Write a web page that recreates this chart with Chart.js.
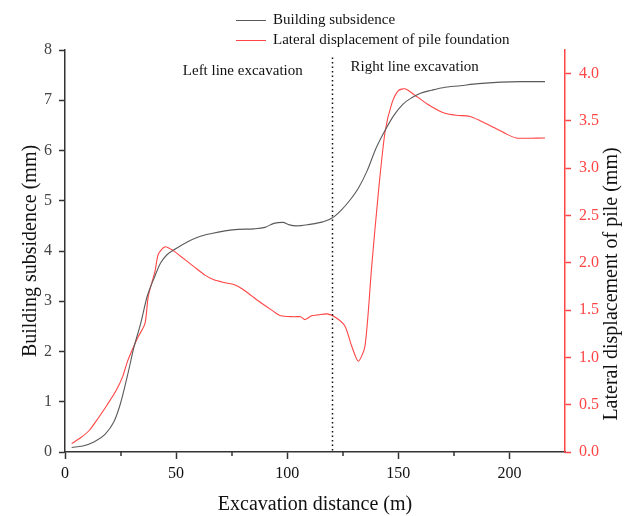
<!DOCTYPE html>
<html>
<head>
<meta charset="utf-8">
<script src="https://cdn.jsdelivr.net/npm/chart.js@4/dist/chart.umd.min.js"></script>
<style>
    html, body { margin: 0; padding: 0; background: #fff; }
    #wrap { position: relative; width: 625px; height: 516px; }
</style>
</head>
<body>
<div id="wrap"><canvas id="chart"></canvas></div>
<script>
// Building subsidence (left axis, mm)
const subsidenceX = [3, 8, 13, 18, 22, 25, 28, 31, 34, 37, 40, 43, 46, 50, 55, 60, 66, 72, 78, 85, 90, 94, 98, 101, 104, 110, 116, 120, 124, 128, 132, 136, 140, 144, 148, 152, 156, 160, 165, 170, 178, 186, 196, 205, 216];
const subsidenceY = [0.09, 0.12, 0.2, 0.35, 0.6, 0.97, 1.5, 2.08, 2.55, 3.1, 3.45, 3.76, 3.93, 4.05, 4.18, 4.28, 4.35, 4.4, 4.43, 4.44, 4.47, 4.55, 4.57, 4.52, 4.5, 4.53, 4.58, 4.65, 4.8, 5.0, 5.25, 5.6, 6.05, 6.4, 6.7, 6.92, 7.05, 7.14, 7.2, 7.25, 7.29, 7.33, 7.36, 7.37, 7.37];

// Lateral displacement of pile foundation (right axis, mm)
const lateralX = [3, 7, 11, 15, 19, 23, 26, 28, 31, 33, 36, 37.5, 40.5, 42, 45, 48, 52, 58, 63, 67, 72, 76, 80, 84, 88, 93, 97, 103, 106, 108, 111, 114, 118, 122, 126, 129, 132, 135, 138, 141, 144, 147, 150, 153, 157, 163, 170, 176, 182, 187, 193, 198, 203, 216];
const lateralY = [0.09, 0.15, 0.23, 0.36, 0.5, 0.65, 0.8, 0.95, 1.12, 1.22, 1.36, 1.65, 1.91, 2.09, 2.17, 2.14, 2.07, 1.96, 1.87, 1.82, 1.79, 1.77, 1.72, 1.65, 1.58, 1.5, 1.44, 1.43, 1.43, 1.4, 1.44, 1.45, 1.46, 1.42, 1.33, 1.12, 0.96, 1.12, 1.96, 2.74, 3.38, 3.68, 3.82, 3.84, 3.78, 3.68, 3.59, 3.56, 3.55, 3.5, 3.43, 3.37, 3.32, 3.32];

const xMin = 0, xMax = 225;
const leftMax = 8;
const rightMax = 4.25;
const dividerX = 120;

const SERIF = "'Liberation Serif', 'Times New Roman', serif";
const BLACK = '#5a5a5a';
const RED = '#ff4545';

const toPoints = (xs, ys) => xs.map((x, i) => ({ x: x, y: ys[i] }));

const extrasPlugin = {
    id: 'extras',
    afterDraw(chart) {
        const ctx = chart.ctx;
        const xs = chart.scales.x;
        const yl = chart.scales.y;
        const area = chart.chartArea;
        ctx.save();

        // minor ticks on x axis
        ctx.strokeStyle = '#333';
        ctx.lineWidth = 1.5;
        [25, 75, 125, 175].forEach(v => {
            const px = Math.round(xs.getPixelForValue(v));
            ctx.beginPath();
            ctx.moveTo(px, area.bottom);
            ctx.lineTo(px, area.bottom + 4);
            ctx.stroke();
        });

        // dotted divider between left and right line excavation
        const dx = Math.round(xs.getPixelForValue(dividerX)) + 0.5;
        ctx.strokeStyle = '#111';
        ctx.lineWidth = 1.5;
        ctx.setLineDash([1.5, 3]);
        ctx.beginPath();
        ctx.moveTo(dx, yl.getPixelForValue(7.85));
        ctx.lineTo(dx, area.bottom);
        ctx.stroke();
        ctx.setLineDash([]);

        // annotations
        ctx.fillStyle = '#111';
        ctx.font = '15px ' + SERIF;
        ctx.textBaseline = 'middle';
        ctx.textAlign = 'center';
        ctx.fillText('Left line excavation', xs.getPixelForValue(80), 71);
        ctx.textAlign = 'left';
        ctx.fillText('Right line excavation', xs.getPixelForValue(128.5), 67);

        // legend
        const legendItems = [
            { color: BLACK, label: 'Building subsidence', y: 20 },
            { color: RED, label: 'Lateral displacement of pile foundation', y: 40 }
        ];
        legendItems.forEach(item => {
            ctx.strokeStyle = item.color;
            ctx.lineWidth = 1;
            ctx.beginPath();
            ctx.moveTo(236, item.y + 0.5);
            ctx.lineTo(266, item.y + 0.5);
            ctx.stroke();
            ctx.fillStyle = '#111';
            ctx.textAlign = 'left';
            ctx.fillText(item.label, 273, item.y);
        });

        // right axis title, reading bottom to top
        ctx.translate(612, 284);
        ctx.rotate(-Math.PI / 2);
        ctx.font = '20px ' + SERIF;
        ctx.textAlign = 'center';
        ctx.fillText('Lateral displacement of pile (mm)', 0, 0);

        ctx.restore();
    }
};

const chart = new Chart(document.getElementById('chart'), {
    type: 'line',
    data: {
        datasets: [{
            label: 'Building subsidence',
            data: toPoints(subsidenceX, subsidenceY),
            borderColor: BLACK,
            borderWidth: 1.1,
            pointRadius: 0,
            tension: 0.4,
            cubicInterpolationMode: 'monotone',
            yAxisID: 'y'
        }, {
            label: 'Lateral displacement of pile foundation',
            data: toPoints(lateralX, lateralY),
            borderColor: RED,
            borderWidth: 1.1,
            pointRadius: 0,
            tension: 0.25,
            yAxisID: 'y1'
        }]
    },
    options: {
        responsive: true,
        maintainAspectRatio: false,
        animation: false,
        layout: { padding: { top: 50, left: 0, right: 0, bottom: 0 } },
        plugins: {
            legend: { display: false },
            tooltip: { enabled: false }
        },
        scales: {
            x: {
                type: 'linear',
                min: xMin,
                max: xMax,
                afterFit: s => { s.height = 64; },
                afterBuildTicks: s => { s.ticks = s.ticks.filter(t => t.value <= 200); },
                ticks: { stepSize: 50, color: '#111', padding: 5, maxRotation: 0, font: { family: SERIF, size: 16 } },
                grid: { drawOnChartArea: false, tickLength: 7, tickColor: '#333', tickWidth: 1.5 },
                border: { display: true, color: '#333', width: 1.5 },
                title: { display: true, text: 'Excavation distance (m)', color: '#111', padding: { top: 0, bottom: 0 }, font: { family: SERIF, size: 20, lineHeight: 1.1 } }
            },
            y: {
                position: 'left',
                min: 0,
                max: leftMax,
                afterFit: s => { s.width = 65; },
                ticks: { stepSize: 1, color: '#444', padding: 7, font: { family: SERIF, size: 16 } },
                grid: { drawOnChartArea: false, tickLength: 6, tickColor: '#333', tickWidth: 1.5 },
                border: { display: true, color: '#333', width: 1.5 },
                title: { display: true, text: 'Building subsidence (mm)', color: '#111', padding: { top: 19, bottom: 0 }, font: { family: SERIF, size: 20, lineHeight: 1.2 } }
            },
            y1: {
                position: 'right',
                min: 0,
                max: rightMax,
                afterFit: s => { s.width = 60; },
                afterBuildTicks: s => { s.ticks = s.ticks.filter(t => t.value <= 4.0001); },
                ticks: { stepSize: 0.5, color: RED, padding: 8, font: { family: SERIF, size: 16 }, callback: v => v.toFixed(1) },
                grid: { drawOnChartArea: false, tickLength: 6, tickColor: RED, tickWidth: 1.5 },
                border: { display: true, color: RED, width: 1.5 },
                title: { display: false }
            }
        }
    },
    plugins: [extrasPlugin]
});
</script>
</body>
</html>
